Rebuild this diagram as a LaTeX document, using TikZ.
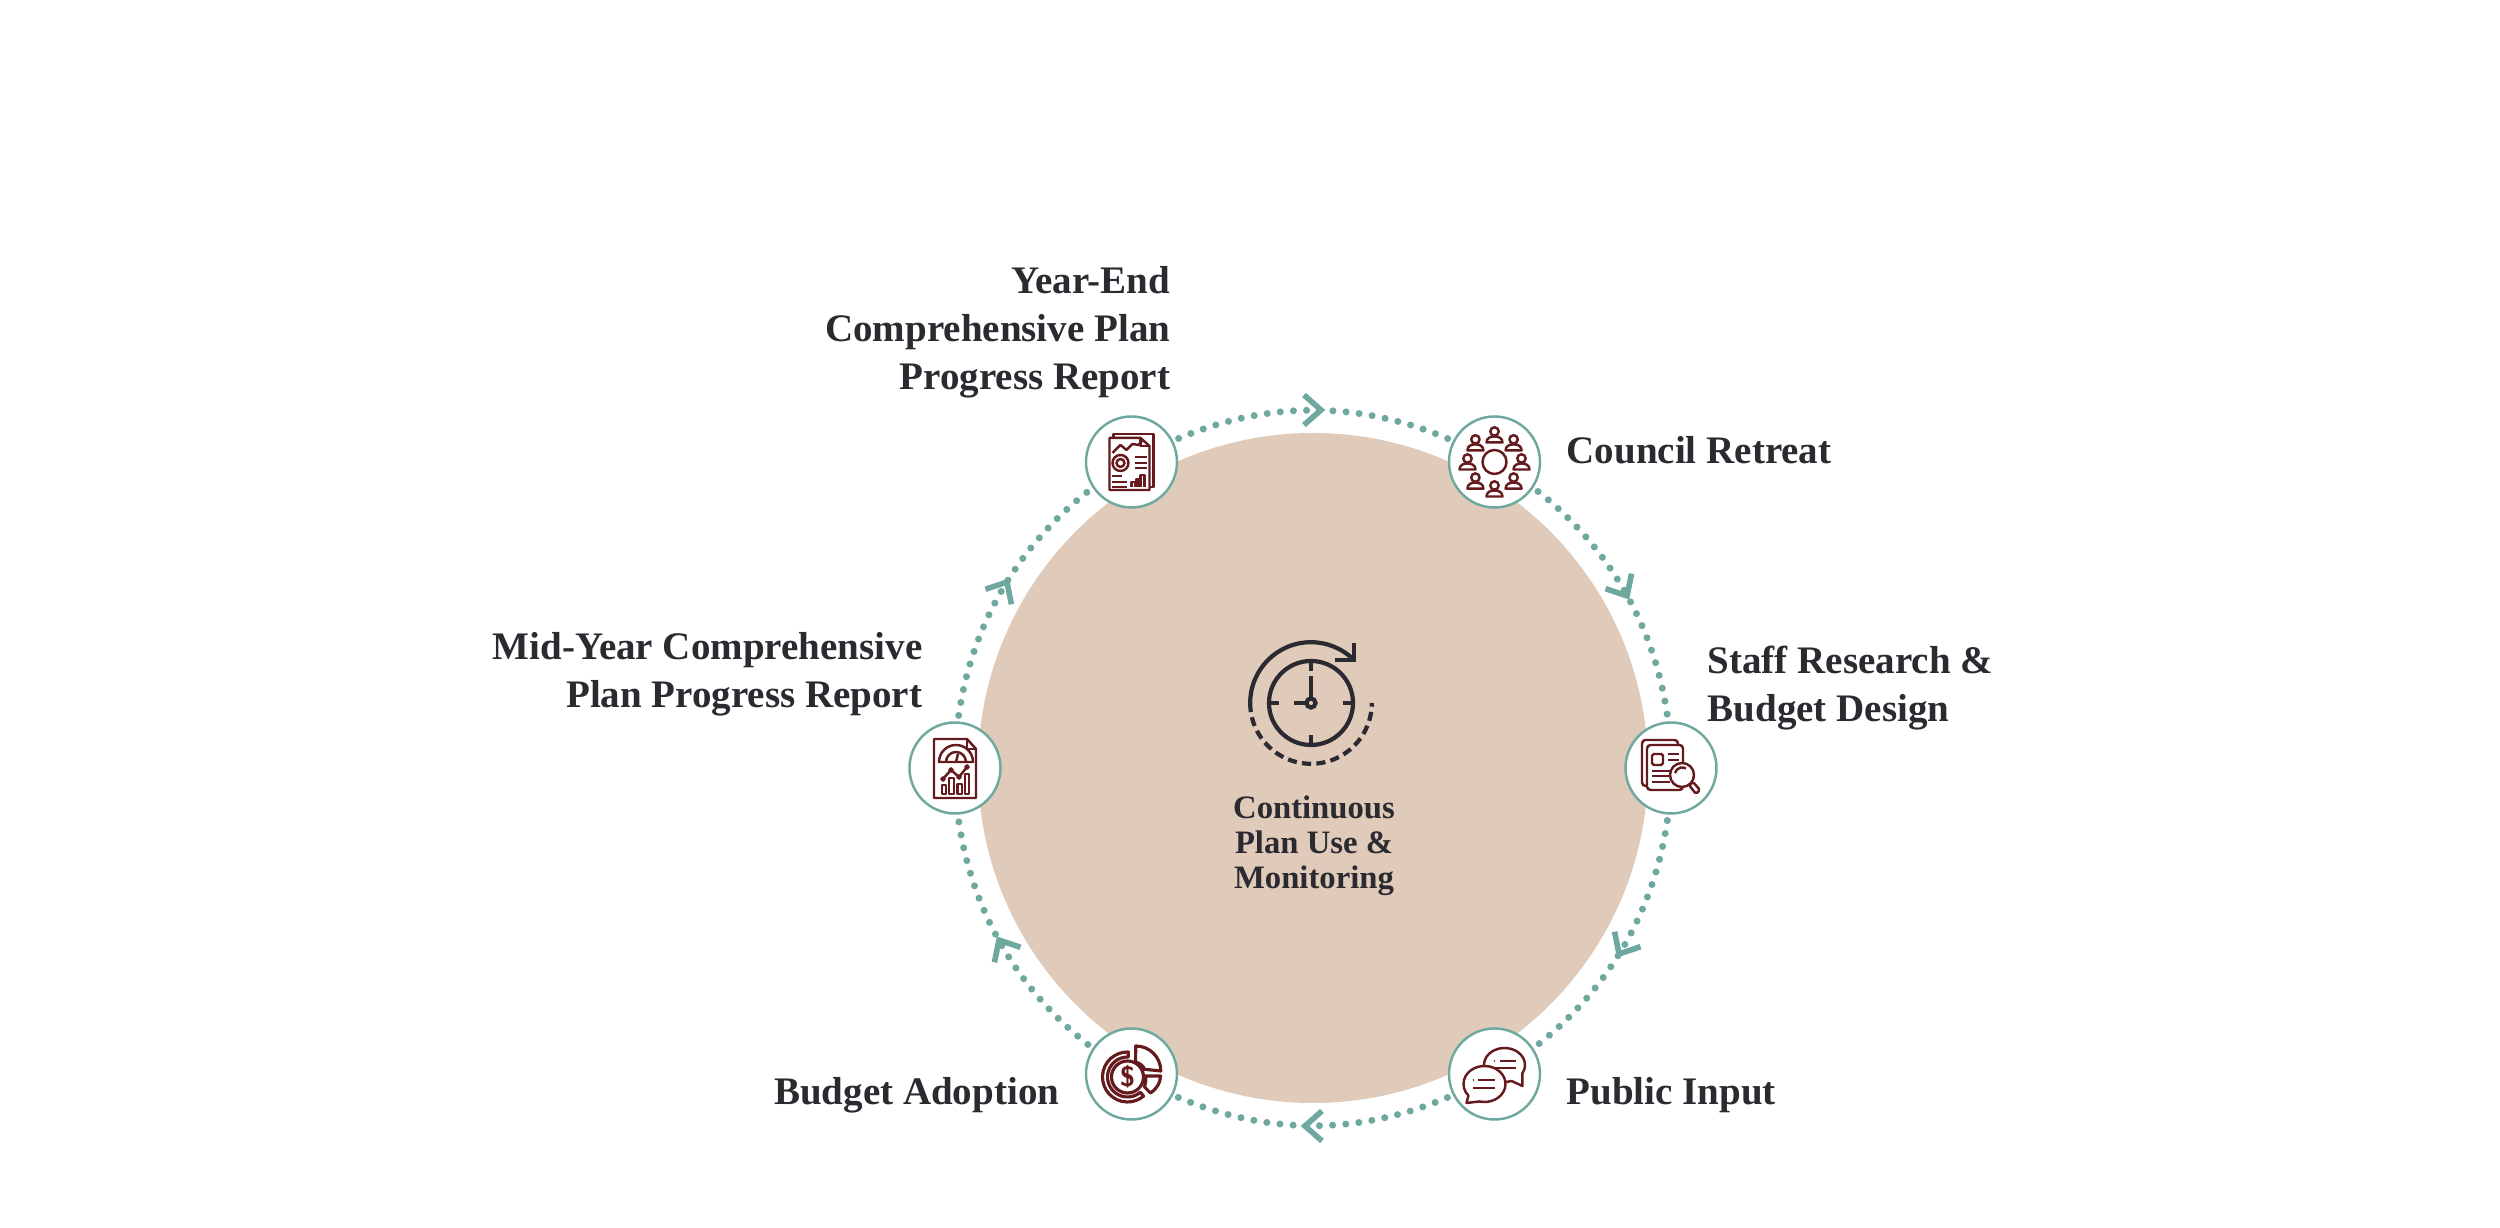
\documentclass[tikz,border=0pt]{standalone}
\usepackage{fontspec}
\setmainfont{Liberation Serif}
\usetikzlibrary{backgrounds}

\definecolor{discbeige}{HTML}{E0CABA}
\definecolor{ringteal}{HTML}{6FA89F}
\definecolor{iconred}{HTML}{651A1E}
\definecolor{ink}{HTML}{2B2A30}

\tikzset{
  stopring/.style={circle, draw=ringteal, fill=white, line width=0.7pt, minimum size=0.91cm},
  ringdots/.style={draw=ringteal, line width=2pt, line cap=round, dash pattern=on 0pt off 3.75pt},
  chevron/.style={draw=ringteal, line width=1.6pt},
  steplabel/.style={font=\fontsize{11.1}{13.6}\selectfont\bfseries, text=ink},
  icon/.style={x=0.1mm, y=0.1mm, color=iconred, line width=0.7pt, line join=round},
}

\begin{document}
\begin{tikzpicture}[
  every node/.style={inner sep=0pt},
]

\def\R{3.58}    % radius of dotted ring
\def\D{3.35}    % radius of disc

\useasboundingbox (-13.13,-4.60) rectangle (11.87,7.68);

% stops on the ring
\foreach \name/\x/\y in {yearend/-1.815/3.06, retreat/1.815/3.06, research/3.58/0, publicinput/1.815/-3.06, adoption/-1.815/-3.06, midyear/-3.58/0} {
  \node[stopring] (\name) at (\x,\y) {};
}

\begin{pgfonlayer}{background}
  \fill[discbeige] (0,0) circle (\D);
  % dotted arcs between stops
  \foreach \a/\b/\l in {yearend/retreat/0.975, retreat/research/0.93, research/publicinput/0.93, publicinput/adoption/0.975, adoption/midyear/0.93, midyear/yearend/0.93} {
    \draw[ringdots] (\a.center) to[bend left=30, looseness=\l] (\b.center);
  }
\end{pgfonlayer}

% chevrons, pointing clockwise
\foreach \ang in {90,30,-30,-90,-150,150} {
  \begin{scope}[shift={(\ang:\R)}, rotate=\ang-90]
    \draw[chevron] (-0.09,0.15) -- (0.08,0) -- (-0.09,-0.15);
  \end{scope}
}

% labels
\node[steplabel, anchor=east, align=right] (yearendlabel) at (-1.42,4.36) {Year-End\\Comprehensive Plan\\Progress Report};
\node[steplabel, anchor=west] (retreatlabel) at (2.53,3.18) {Council Retreat};
\node[steplabel, anchor=west, align=left] (researchlabel) at (3.94,0.80) {Staff Research \&\\Budget Design};
\node[steplabel, anchor=west] (inputlabel) at (2.53,-3.27) {Public Input};
\node[steplabel, anchor=east] (adoptionlabel) at (-2.53,-3.27) {Budget Adoption};
\node[steplabel, anchor=east, align=right] (midyearlabel) at (-3.90,0.94) {Mid-Year Comprehensive\\Plan Progress Report};
\node[font=\fontsize{9.3}{10}\selectfont\bfseries, text=ink, align=center] (centerlabel) at (0.01,-0.78) {Continuous\\Plan Use \&\\Monitoring};

% clock
\begin{scope}[shift={(-0.02,0.65)}, x=0.1mm, y=0.1mm, color=ink, line width=1.2pt]
  \draw (0,0) circle (42);
  \draw (0,42) -- (0,32) (0,-42) -- (0,-32) (42,0) -- (32,0) (-42,0) -- (-32,0);
  \draw (0,5) -- (0,27) (-5,0) -- (-17,0);
  \draw (0,0) circle (4.5);
  \draw (180:60.8) arc[start angle=180, end angle=45, radius=60.8];
  \draw (43,60) -- (43,43) -- (24,43);
  \draw[dash pattern=on 2.6pt off 1.5pt] (180:60.8) arc[start angle=180, end angle=360, radius=60.8];
\end{scope}

% year-end report
\begin{scope}[shift={(yearend)}, icon]
  \draw (-18,24) -- (-18,28) -- (22,28) -- (22,-25) -- (18,-25);
  \draw (-22,-28) -- (-22,24) -- (9,24) -- (18,16) -- (18,-28) -- cycle;
  \draw (9,24) -- (9,16) -- (18,16);
  \draw (-19,9) -- (-11,17) -- (-5,12) -- (1,18) -- (7,17) -- (11,22);
  \draw (-11,-1) circle (8) (-11,-1) circle (4);
  \draw (3,5) -- (15,5) (3,-1) -- (15,-1) (3,-6) -- (15,-6);
  \draw (-19,-14) -- (-9,-14) (-19,-20) -- (-4,-20) (-19,-25) -- (-4,-25);
  \draw (0,-25) -- (0,-20) -- (4,-20) -- (4,-25) (5,-25) -- (5,-17) -- (8,-17) -- (8,-25) (9,-25) -- (9,-13) -- (13,-13) -- (13,-25);
\end{scope}

% council retreat
\begin{scope}[shift={(retreat)}, icon]
  \draw (0,0) circle (12);
  \foreach \ang in {0,45,...,315} {
    \begin{scope}[shift={(\ang:27)}]
      \draw (0,3.5) circle (4.2);
      \draw (-8,-7.5) .. controls (-8,-3) and (-4,-1.5) .. (0,-1.5) .. controls (4,-1.5) and (8,-3) .. (8,-7.5) -- cycle;
    \end{scope}
  }
\end{scope}

% research
\begin{scope}[shift={(research)}, icon]
  \draw[rounded corners=1pt] (-24,-18) -- (-29,-18) -- (-29,28) -- (7,28) -- (7,23);
  \draw[rounded corners=1pt] (-24,-22) rectangle (12,23);
  \draw[rounded corners=0.5pt] (-19,3) rectangle (-8,14);
  \draw (-3,14) -- (8,14) (-3,8) -- (8,8);
  \draw (-19,-3) -- (-1,-3) (-19,-8) -- (-1,-8) (-19,-14) -- (-1,-14);
  \draw[fill=white] (11,-7) circle (12);
  \draw (4,-5) arc[start angle=165, end angle=60, radius=7.5];
  \draw[rounded corners=0.5pt, fill=white] (18,-17) -- (22,-14) -- (29,-22) -- (25,-26) -- cycle;
\end{scope}

% public input
\begin{scope}[shift={(publicinput)}, icon]
  \draw[shift={(10,9)}, fill=white] (330:20.5 and 17) arc[start angle=330, end angle=650, x radius=20.5, y radius=17] -- (18,-21) -- cycle;
  \draw[shift={(-10,-10)}, fill=white] (256:21 and 18) arc[start angle=256, end angle=580, x radius=21, y radius=18] -- (-18,-19) -- cycle;
  \draw (5,13) -- (21,13) (0,6) -- (21,6);
  \fill (0,13) circle (0.8);
  \draw (-17,-6) -- (0,-6) (-22,-14) -- (0,-14);
  \fill (-21,-6) circle (0.8);
\end{scope}

% budget adoption
\begin{scope}[shift={(adoption)}, icon, line width=0.9pt]
  \draw (-4,-3) circle (16);
  \node[font=\fontsize{8}{8}\selectfont\bfseries\sffamily, text=iconred] (dollar) at (-4,-3) {\$};
  \draw[shift={(-4,-3)}] (88:25) arc[start angle=88, end angle=310, radius=25] -- (310:20) arc[start angle=310, end angle=88, radius=20] -- cycle;
  \draw (4.3,28) arc[start angle=90, end angle=0, radius=25] -- (13,4.7) .. controls (12,8) and (8,11) .. (4,12) -- cycle;
  \draw (14,-2) -- (29,-2) .. controls (29,-9) and (25,-15) .. (19,-19) -- (13,-13) .. controls (14,-9) and (15,-5) .. (14,-2) -- cycle;
\end{scope}

% mid-year report
\begin{scope}[shift={(midyear)}, icon]
  \draw (-21,-30) -- (-21,29) -- (12,29) -- (21,19) -- (21,-30) -- cycle;
  \draw (12,29) -- (12,19) -- (21,19);
  \draw (-16,6) arc[start angle=180, end angle=0, radius=17] -- cycle;
  \draw (-9,6) arc[start angle=180, end angle=0, radius=10];
  \draw (1,6) -- (3,14);
  \draw (-12,-11) -- (-4,-2) -- (4,-9) -- (12,1);
  \draw[fill=white] (-12,-11) circle (1.7) (-4,-2) circle (1.7) (4,-9) circle (1.7) (12,1) circle (1.7);
  \draw (-13,-26) rectangle (-9,-17) (-6,-26) rectangle (-1,-10) (2.3,-26) rectangle (7,-16) (10,-26) rectangle (14,-6);
\end{scope}

\end{tikzpicture}
\end{document}
